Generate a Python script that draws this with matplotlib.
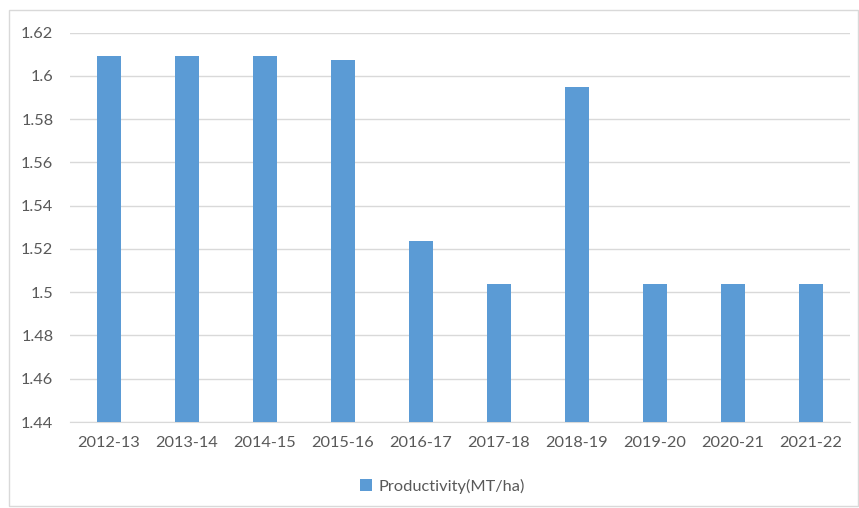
import matplotlib.pyplot as plt
from matplotlib.patches import Rectangle

years = ['2012-13', '2013-14', '2014-15', '2015-16', '2016-17',
         '2017-18', '2018-19', '2019-20', '2020-21', '2021-22']
productivity = [1.609, 1.609, 1.609, 1.6075, 1.5235, 1.504, 1.595, 1.504, 1.504, 1.504]
yticks = [1.44, 1.46, 1.48, 1.5, 1.52, 1.54, 1.56, 1.58, 1.6, 1.62]
ytick_labels = ['1.44', '1.46', '1.48', '1.5', '1.52', '1.54', '1.56', '1.58', '1.6', '1.62']

plt.rcParams['font.family'] = ['Lato', 'DejaVu Sans']
text_color = '#595959'
bar_color = '#5B9BD5'

fig = plt.figure(figsize=(8.59, 5.08), dpi=100)
fig.patches.append(Rectangle((9 / 859, 2 / 508), 849 / 859, 496 / 508,
                             transform=fig.transFigure, fill=False,
                             edgecolor='#d9d9d9', linewidth=1))
ax = fig.add_axes([70 / 859, 1 - 422 / 508, 780 / 859, 389.5 / 508])

x = range(len(years))
ax.bar(x, productivity, width=0.32, color=bar_color, label='Productivity(MT/ha)', zorder=3)

ax.set_ylim(1.44, 1.62)
ax.set_xlim(-0.5, len(years) - 0.5)
ax.set_yticks(yticks)
ax.set_yticklabels(ytick_labels)
ax.set_xticks(list(x))
ax.set_xticklabels(years)
ax.grid(axis='y', color='#d9d9d9', linewidth=1, zorder=0)
for s in ['top', 'right', 'left']:
    ax.spines[s].set_visible(False)
ax.spines['bottom'].set_color('#d9d9d9')
ax.tick_params(axis='both', length=0, colors=text_color, labelsize=11.8)
ax.tick_params(axis='x', pad=10)
ax.tick_params(axis='y', pad=12)

fig.legend(loc='center', bbox_to_anchor=(0.515, 1 - 486 / 508), frameon=False,
           fontsize=11.8, labelcolor=text_color, handlelength=0.7, handleheight=0.7,
           handletextpad=0.4)

fig.savefig('out.png', dpi=100)
